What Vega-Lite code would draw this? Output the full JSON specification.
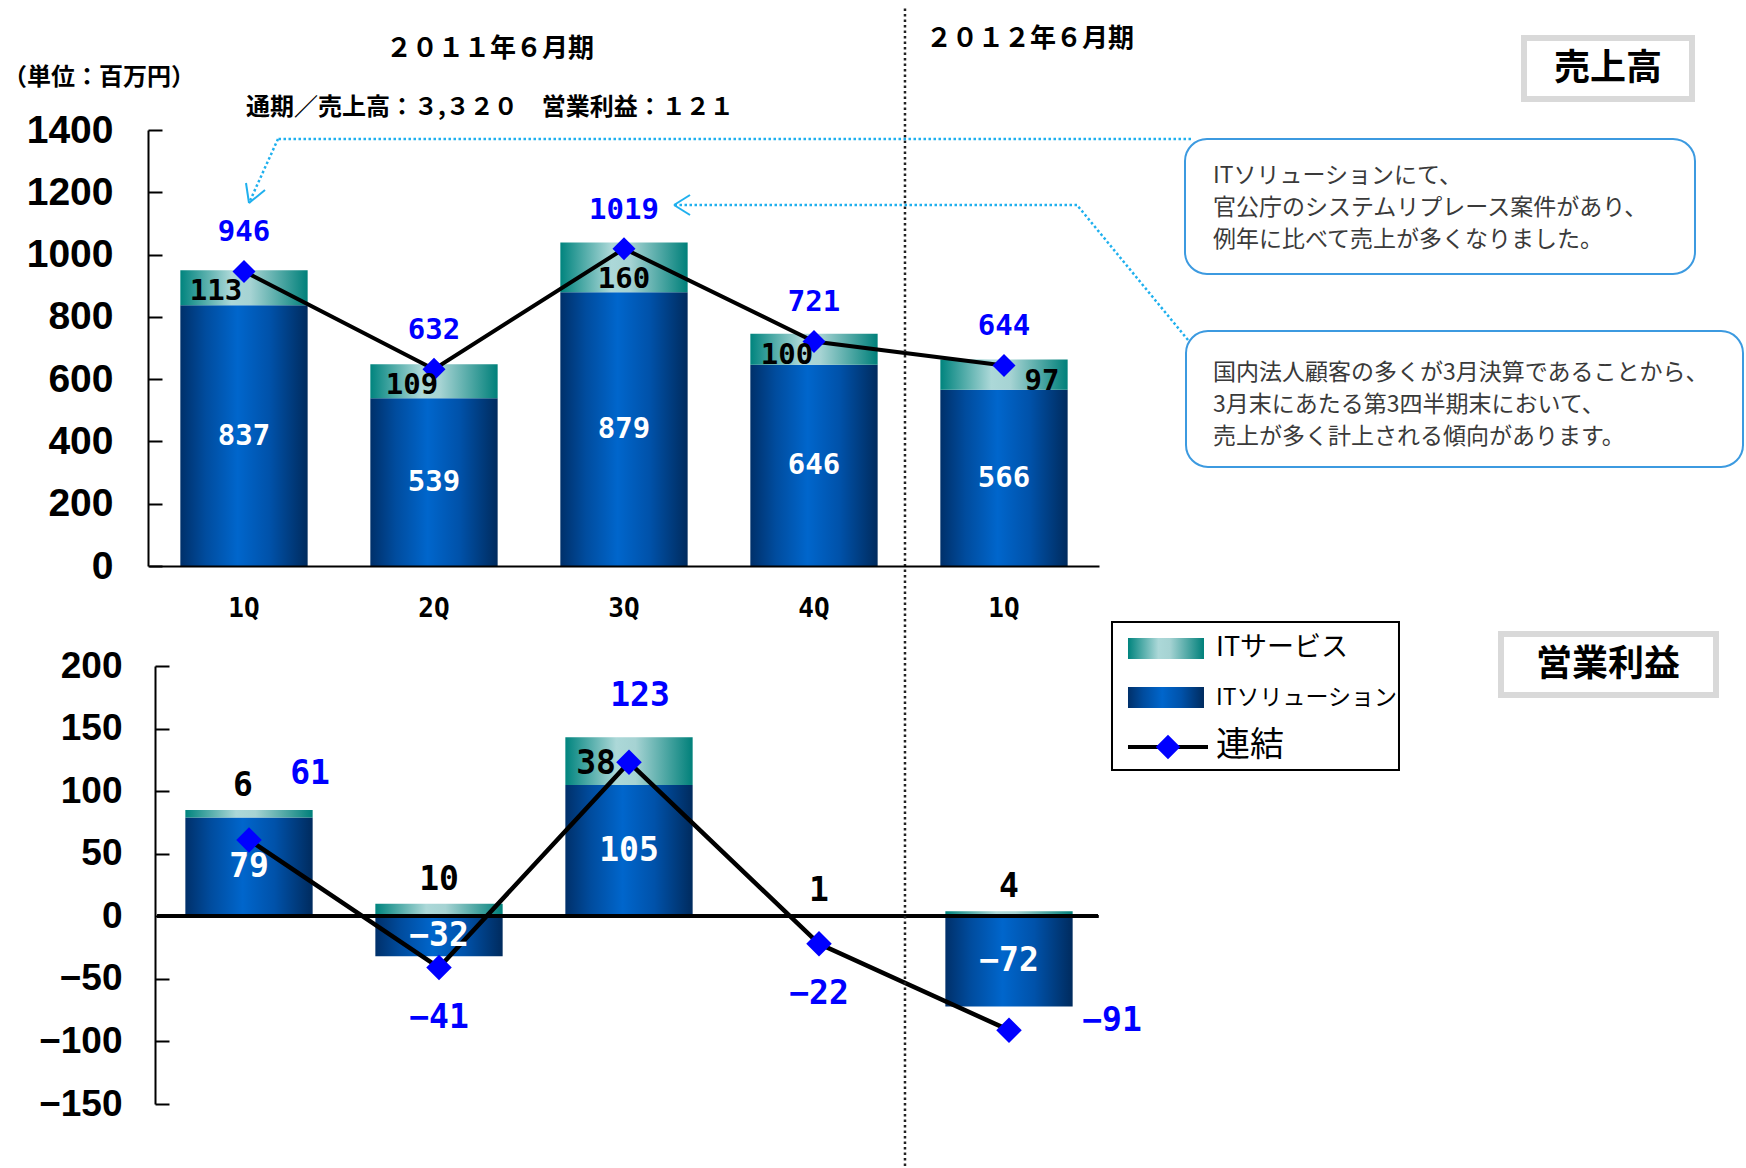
{
  "$schema": "https://vega.github.io/schema/vega-lite/v6.json",
  "width": 1598,
  "height": 566,
  "autosize": {"type": "none"},
  "padding": {"left": 148, "top": 0, "right": 0, "bottom": 602},
  "background": "white",
  "config": {"view": {"stroke": null}},
  "datasets": {
    "sales": [
      {"key": "2011-1Q", "series": "ITソリューション", "value": 837},
      {"key": "2011-1Q", "series": "ITサービス", "value": 113},
      {"key": "2011-1Q", "series": "連結", "value": 946},
      {"key": "2011-2Q", "series": "ITソリューション", "value": 539},
      {"key": "2011-2Q", "series": "ITサービス", "value": 109},
      {"key": "2011-2Q", "series": "連結", "value": 632},
      {"key": "2011-3Q", "series": "ITソリューション", "value": 879},
      {"key": "2011-3Q", "series": "ITサービス", "value": 160},
      {"key": "2011-3Q", "series": "連結", "value": 1019},
      {"key": "2011-4Q", "series": "ITソリューション", "value": 646},
      {"key": "2011-4Q", "series": "ITサービス", "value": 100},
      {"key": "2011-4Q", "series": "連結", "value": 721},
      {"key": "2012-1Q", "series": "ITソリューション", "value": 566},
      {"key": "2012-1Q", "series": "ITサービス", "value": 97},
      {"key": "2012-1Q", "series": "連結", "value": 644}
    ],
    "profit": [
      {"key": "2011-1Q", "series": "ITソリューション", "value": 79},
      {"key": "2011-1Q", "series": "ITサービス", "value": 6},
      {"key": "2011-1Q", "series": "連結", "value": 61},
      {"key": "2011-2Q", "series": "ITソリューション", "value": -32},
      {"key": "2011-2Q", "series": "ITサービス", "value": 10},
      {"key": "2011-2Q", "series": "連結", "value": -41},
      {"key": "2011-3Q", "series": "ITソリューション", "value": 105},
      {"key": "2011-3Q", "series": "ITサービス", "value": 38},
      {"key": "2011-3Q", "series": "連結", "value": 123},
      {"key": "2011-4Q", "series": "ITソリューション", "value": 0},
      {"key": "2011-4Q", "series": "ITサービス", "value": 1},
      {"key": "2011-4Q", "series": "連結", "value": -22},
      {"key": "2012-1Q", "series": "ITソリューション", "value": -72},
      {"key": "2012-1Q", "series": "ITサービス", "value": 4},
      {"key": "2012-1Q", "series": "連結", "value": -91}
    ]
  },
  "layer": [
    {
      "data": {"name": "sales"},
      "layer": [
        {
          "transform": [{"filter": "datum.series !== '連結'"}],
          "mark": {"type": "bar"},
          "encoding": {
            "x": {"field": "key", "type": "nominal", "scale": {"type": "band", "domain": ["2011-1Q","2011-2Q","2011-3Q","2011-4Q","2012-1Q"], "range": [1, 951], "paddingInner": 0.33, "paddingOuter": 0.165},
              "axis": {"orient": "bottom", "title": null, "labelExpr": "slice(datum.label, 5)", "labelAngle": 0, "labelAlign": "center", "labelBaseline": "top", "labelFont": "DejaVu Sans Mono", "labelFontWeight": "bold", "labelFontSize": 26, "labelColor": "#000000", "labelPadding": 29, "ticks": false, "grid": false, "domainColor": "#000000", "domainWidth": 2, "zindex": 1}},
            "y": {"field": "value", "type": "quantitative", "stack": "zero", "scale": {"type": "linear", "domain": [0, 1400], "range": [566, 130], "zero": false, "nice": false},
              "axis": {"orient": "left", "title": null, "values": [0,200,400,600,800,1000,1200,1400], "format": "d", "labelFont": "Liberation Sans, Arial, sans-serif", "labelFontWeight": "bold", "labelFontSize": 39, "labelColor": "#000000", "labelPadding": 49, "tickSize": -14, "tickColor": "#000000", "tickWidth": 2, "domainColor": "#000000", "domainWidth": 2, "grid": false, "labelOverlap": false}},
            "detail": {"field": "series"},
            "order": {"field": "series", "sort": "descending"},
            "color": {
              "condition": {"test": "datum.series === 'ITサービス'", "value": {"gradient": "linear", "x1": 0, "y1": 0, "x2": 1, "y2": 0, "stops": [{"offset": 0, "color": "#00847E"}, {"offset": 0.4, "color": "#ACD8D8"}, {"offset": 0.55, "color": "#A6D3D3"}, {"offset": 1, "color": "#00807A"}]}},
              "value": {"gradient": "linear", "x1": 0, "y1": 0, "x2": 1, "y2": 0, "stops": [{"offset": 0, "color": "#00306A"}, {"offset": 0.2, "color": "#004C9E"}, {"offset": 0.45, "color": "#0066CC"}, {"offset": 0.7, "color": "#0052AA"}, {"offset": 1, "color": "#002B5E"}]}
            }
          }
        },
        {
          "transform": [{"filter": "datum.series === '連結'"}],
          "mark": {"type": "line", "color": "#000000", "strokeWidth": 4},
          "encoding": {
            "x": {"field": "key", "type": "nominal", "scale": {"type": "band", "domain": ["2011-1Q","2011-2Q","2011-3Q","2011-4Q","2012-1Q"], "range": [1, 951], "paddingInner": 0.33, "paddingOuter": 0.165}},
            "y": {"field": "value", "type": "quantitative", "scale": {"type": "linear", "domain": [0, 1400], "range": [566, 130], "zero": false, "nice": false}}
          }
        },
        {
          "transform": [{"filter": "datum.series === '連結'"}],
          "mark": {"type": "point", "shape": "diamond", "filled": true, "color": "#0000FF", "opacity": 1, "size": 530, "strokeWidth": 0},
          "encoding": {
            "x": {"field": "key", "type": "nominal", "scale": {"type": "band", "domain": ["2011-1Q","2011-2Q","2011-3Q","2011-4Q","2012-1Q"], "range": [1, 951], "paddingInner": 0.33, "paddingOuter": 0.165}},
            "y": {"field": "value", "type": "quantitative", "scale": {"type": "linear", "domain": [0, 1400], "range": [566, 130], "zero": false, "nice": false}}
          }
        },
        {
          "transform": [{"filter": "datum.series === '連結'"}],
          "mark": {"type": "text", "font": "DejaVu Sans Mono", "fontWeight": "bold", "fontSize": 29, "color": "#0000FF", "dy": -39, "baseline": "middle", "align": "center"},
          "encoding": {
            "x": {"field": "key", "type": "nominal", "scale": {"type": "band", "domain": ["2011-1Q","2011-2Q","2011-3Q","2011-4Q","2012-1Q"], "range": [1, 951], "paddingInner": 0.33, "paddingOuter": 0.165}},
            "y": {"field": "value", "type": "quantitative", "scale": {"type": "linear", "domain": [0, 1400], "range": [566, 130], "zero": false, "nice": false}},
            "text": {"field": "value", "type": "quantitative", "format": "d"}
          }
        },
        {
          "transform": [{"filter": "datum.series !== '連結'"}],
          "mark": {"type": "text", "font": "DejaVu Sans Mono", "fontWeight": "bold", "fontSize": 29, "color": "#000000", "baseline": "middle", "align": "center",
            "dx": {"expr": "datum.key === '2011-1Q' ? -28 : datum.key === '2011-2Q' ? -22 : datum.key === '2011-4Q' ? -27 : datum.key === '2012-1Q' ? 38 : 0"},
            "dy": {"expr": "datum.key === '2011-3Q' ? 37 : 21"}},
          "encoding": {
            "x": {"field": "key", "type": "nominal", "scale": {"type": "band", "domain": ["2011-1Q","2011-2Q","2011-3Q","2011-4Q","2012-1Q"], "range": [1, 951], "paddingInner": 0.33, "paddingOuter": 0.165}},
            "y": {"field": "value", "type": "quantitative", "stack": "zero", "scale": {"type": "linear", "domain": [0, 1400], "range": [566, 130], "zero": false, "nice": false}},
            "detail": {"field": "series"},
            "order": {"field": "series", "sort": "descending"},
            "text": {"condition": {"test": "datum.series === 'ITサービス'", "field": "value", "type": "quantitative", "format": "d"}, "value": ""}
          }
        }
      ]
    },
    {
      "data": {"name": "sales"},
      "transform": [{"filter": "datum.series === 'ITソリューション'"}],
      "mark": {"type": "text", "font": "DejaVu Sans Mono", "fontWeight": "bold", "fontSize": 29, "color": "#FFFFFF", "baseline": "middle", "align": "center"},
      "encoding": {
        "x": {"field": "key", "type": "nominal", "scale": {"type": "band", "domain": ["2011-1Q","2011-2Q","2011-3Q","2011-4Q","2012-1Q"], "range": [1, 951], "paddingInner": 0.33, "paddingOuter": 0.165}, "axis": null},
        "y": {"field": "value", "type": "quantitative", "scale": {"type": "linear", "domain": [0, 2800], "range": [566, 130], "zero": false, "nice": false}, "axis": null},
        "text": {"field": "value", "type": "quantitative", "format": "d"}
      }
    },
    {
      "data": {"name": "profit"},
      "layer": [
        {
          "transform": [{"filter": "datum.series !== '連結'"}],
          "mark": {"type": "bar"},
          "encoding": {
            "x": {"field": "key", "type": "nominal", "scale": {"type": "band", "domain": ["2011-1Q","2011-2Q","2011-3Q","2011-4Q","2012-1Q"], "range": [6, 956], "paddingInner": 0.33, "paddingOuter": 0.165}, "axis": null},
            "y": {"field": "value", "type": "quantitative", "stack": "zero", "scale": {"type": "linear", "domain": [-150, 200], "range": [1104, 666], "zero": false, "nice": false},
              "axis": {"orient": "left", "offset": -7, "title": null, "values": [-150,-100,-50,0,50,100,150,200], "format": "d", "labelFont": "Liberation Sans, Arial, sans-serif", "labelFontWeight": "bold", "labelFontSize": 37, "labelColor": "#000000", "labelPadding": 47, "tickSize": -14, "tickColor": "#000000", "tickWidth": 2, "domainColor": "#000000", "domainWidth": 2, "grid": false, "labelOverlap": false}},
            "detail": {"field": "series"},
            "order": {"field": "series", "sort": "descending"},
            "color": {
              "condition": {"test": "datum.series === 'ITサービス'", "value": {"gradient": "linear", "x1": 0, "y1": 0, "x2": 1, "y2": 0, "stops": [{"offset": 0, "color": "#00847E"}, {"offset": 0.4, "color": "#ACD8D8"}, {"offset": 0.55, "color": "#A6D3D3"}, {"offset": 1, "color": "#00807A"}]}},
              "value": {"gradient": "linear", "x1": 0, "y1": 0, "x2": 1, "y2": 0, "stops": [{"offset": 0, "color": "#00306A"}, {"offset": 0.2, "color": "#004C9E"}, {"offset": 0.45, "color": "#0066CC"}, {"offset": 0.7, "color": "#0052AA"}, {"offset": 1, "color": "#002B5E"}]}
            }
          }
        },
        {
          "mark": {"type": "rule", "color": "#000000", "strokeWidth": 3},
          "encoding": {
            "x": {"datum": "2011-1Q", "bandPosition": -0.22, "scale": {"type": "band", "domain": ["2011-1Q","2011-2Q","2011-3Q","2011-4Q","2012-1Q"], "range": [6, 956], "paddingInner": 0.33, "paddingOuter": 0.165}, "axis": null},
            "x2": {"datum": "2012-1Q", "bandPosition": 1.2},
            "y": {"datum": 0, "type": "quantitative", "scale": {"type": "linear", "domain": [-150, 200], "range": [1104, 666], "zero": false, "nice": false}}
          }
        },
        {
          "transform": [{"filter": "datum.series === '連結'"}],
          "mark": {"type": "line", "color": "#000000", "strokeWidth": 4.5},
          "encoding": {
            "x": {"field": "key", "type": "nominal", "scale": {"type": "band", "domain": ["2011-1Q","2011-2Q","2011-3Q","2011-4Q","2012-1Q"], "range": [6, 956], "paddingInner": 0.33, "paddingOuter": 0.165}, "axis": null},
            "y": {"field": "value", "type": "quantitative", "scale": {"type": "linear", "domain": [-150, 200], "range": [1104, 666], "zero": false, "nice": false}}
          }
        },
        {
          "transform": [{"filter": "datum.series === '連結'"}],
          "mark": {"type": "point", "shape": "diamond", "filled": true, "color": "#0000FF", "opacity": 1, "size": 650, "strokeWidth": 0},
          "encoding": {
            "x": {"field": "key", "type": "nominal", "scale": {"type": "band", "domain": ["2011-1Q","2011-2Q","2011-3Q","2011-4Q","2012-1Q"], "range": [6, 956], "paddingInner": 0.33, "paddingOuter": 0.165}, "axis": null},
            "y": {"field": "value", "type": "quantitative", "scale": {"type": "linear", "domain": [-150, 200], "range": [1104, 666], "zero": false, "nice": false}}
          }
        },
        {
          "transform": [{"filter": "datum.series === '連結'"}],
          "mark": {"type": "text", "font": "DejaVu Sans Mono", "fontWeight": "bold", "fontSize": 33, "color": "#0000FF", "baseline": "middle", "align": "center",
            "dx": {"expr": "datum.key === '2011-1Q' ? 61 : datum.key === '2011-3Q' ? 11 : datum.key === '2012-1Q' ? 103 : 0"},
            "dy": {"expr": "datum.key === '2012-1Q' ? -9 : datum.value >= 0 ? -66 : 50"}},
          "encoding": {
            "x": {"field": "key", "type": "nominal", "scale": {"type": "band", "domain": ["2011-1Q","2011-2Q","2011-3Q","2011-4Q","2012-1Q"], "range": [6, 956], "paddingInner": 0.33, "paddingOuter": 0.165}, "axis": null},
            "y": {"field": "value", "type": "quantitative", "scale": {"type": "linear", "domain": [-150, 200], "range": [1104, 666], "zero": false, "nice": false}},
            "text": {"field": "value", "type": "quantitative", "format": "d"}
          }
        },
        {
          "transform": [{"filter": "datum.series !== '連結'"}],
          "mark": {"type": "text", "font": "DejaVu Sans Mono", "fontWeight": "bold", "fontSize": 33, "color": "#000000", "baseline": "middle", "align": "center",
            "dx": {"expr": "datum.key === '2011-3Q' ? -33 : datum.key === '2011-1Q' ? -6 : 0"},
            "dy": {"expr": "datum.key === '2011-3Q' ? 27 : -24"}},
          "encoding": {
            "x": {"field": "key", "type": "nominal", "scale": {"type": "band", "domain": ["2011-1Q","2011-2Q","2011-3Q","2011-4Q","2012-1Q"], "range": [6, 956], "paddingInner": 0.33, "paddingOuter": 0.165}, "axis": null},
            "y": {"field": "value", "type": "quantitative", "stack": "zero", "scale": {"type": "linear", "domain": [-150, 200], "range": [1104, 666], "zero": false, "nice": false}},
            "detail": {"field": "series"},
            "order": {"field": "series", "sort": "descending"},
            "text": {"condition": {"test": "datum.series === 'ITサービス'", "field": "value", "type": "quantitative", "format": "d"}, "value": ""}
          }
        }
      ]
    },
    {
      "data": {"name": "profit"},
      "transform": [{"filter": "datum.series === 'ITソリューション' && datum.value !== 0"}],
      "mark": {"type": "text", "font": "DejaVu Sans Mono", "fontWeight": "bold", "fontSize": 33, "color": "#FFFFFF", "baseline": "middle", "align": "center"},
      "encoding": {
        "x": {"field": "key", "type": "nominal", "scale": {"type": "band", "domain": ["2011-1Q","2011-2Q","2011-3Q","2011-4Q","2012-1Q"], "range": [6, 956], "paddingInner": 0.33, "paddingOuter": 0.165}, "axis": null},
        "y": {"field": "value", "type": "quantitative", "scale": {"type": "linear", "domain": [-300, 400], "range": [1104, 666], "zero": false, "nice": false}, "axis": null},
        "text": {"field": "value", "type": "quantitative", "format": "d"}
      }
    },
    {
      "data": {"values": [{}]},
      "layer": [
        {"mark": {"type": "rule", "color": "#222222", "strokeWidth": 2.5, "strokeDash": [2.5, 3]},
         "encoding": {"x": {"datum": 3.4789, "type": "quantitative", "scale": {"type": "linear", "domain": [-0.5, 4.5], "range": [1, 951], "zero": false, "nice": false}, "axis": null},
           "y": {"datum": 1790, "type": "quantitative", "scale": {"type": "linear", "domain": [0, 1400], "range": [566, 130], "zero": false, "nice": false}, "axis": null}, "y2": {"datum": -1930}}},
        {"mark": {"type": "rule", "color": "#1FB0EE", "strokeWidth": 2.5, "strokeDash": [2.5, 2.5]},
         "encoding": {"x": {"datum": 4.9842, "type": "quantitative", "scale": {"type": "linear", "domain": [-0.5, 4.5], "range": [1, 951], "zero": false, "nice": false}, "axis": null}, "x2": {"datum": 0.1789},
           "y": {"datum": 1371.1, "type": "quantitative", "scale": {"type": "linear", "domain": [0, 1400], "range": [566, 130], "zero": false, "nice": false}, "axis": null}, "y2": {"datum": 1371.1}}},
        {"mark": {"type": "rule", "color": "#1FB0EE", "strokeWidth": 2.5, "strokeDash": [2.5, 2.5]},
         "encoding": {"x": {"datum": 0.1789, "type": "quantitative", "scale": {"type": "linear", "domain": [-0.5, 4.5], "range": [1, 951], "zero": false, "nice": false}, "axis": null}, "x2": {"datum": 0.0263},
           "y": {"datum": 1371.1, "type": "quantitative", "scale": {"type": "linear", "domain": [0, 1400], "range": [566, 130], "zero": false, "nice": false}, "axis": null}, "y2": {"datum": 1165.6}}},
        {"mark": {"type": "rule", "color": "#1FB0EE", "strokeWidth": 2},
         "encoding": {"x": {"datum": 0.0105, "type": "quantitative", "scale": {"type": "linear", "domain": [-0.5, 4.5], "range": [1, 951], "zero": false, "nice": false}, "axis": null}, "x2": {"datum": 0.0263},
           "y": {"datum": 1229.8, "type": "quantitative", "scale": {"type": "linear", "domain": [0, 1400], "range": [566, 130], "zero": false, "nice": false}, "axis": null}, "y2": {"datum": 1165.6}}},
        {"mark": {"type": "rule", "color": "#1FB0EE", "strokeWidth": 2},
         "encoding": {"x": {"datum": 0.1105, "type": "quantitative", "scale": {"type": "linear", "domain": [-0.5, 4.5], "range": [1, 951], "zero": false, "nice": false}, "axis": null}, "x2": {"datum": 0.0263},
           "y": {"datum": 1207.3, "type": "quantitative", "scale": {"type": "linear", "domain": [0, 1400], "range": [566, 130], "zero": false, "nice": false}, "axis": null}, "y2": {"datum": 1165.6}}},
        {"mark": {"type": "rule", "color": "#1FB0EE", "strokeWidth": 2.5, "strokeDash": [2.5, 2.5]},
         "encoding": {"x": {"datum": 4.9684, "type": "quantitative", "scale": {"type": "linear", "domain": [-0.5, 4.5], "range": [1, 951], "zero": false, "nice": false}, "axis": null}, "x2": {"datum": 4.3842},
           "y": {"datum": 725.7, "type": "quantitative", "scale": {"type": "linear", "domain": [0, 1400], "range": [566, 130], "zero": false, "nice": false}, "axis": null}, "y2": {"datum": 1159.2}}},
        {"mark": {"type": "rule", "color": "#1FB0EE", "strokeWidth": 2.5, "strokeDash": [2.5, 2.5]},
         "encoding": {"x": {"datum": 4.3842, "type": "quantitative", "scale": {"type": "linear", "domain": [-0.5, 4.5], "range": [1, 951], "zero": false, "nice": false}, "axis": null}, "x2": {"datum": 2.2632},
           "y": {"datum": 1159.2, "type": "quantitative", "scale": {"type": "linear", "domain": [0, 1400], "range": [566, 130], "zero": false, "nice": false}, "axis": null}, "y2": {"datum": 1159.2}}},
        {"mark": {"type": "rule", "color": "#1FB0EE", "strokeWidth": 2},
         "encoding": {"x": {"datum": 2.3474, "type": "quantitative", "scale": {"type": "linear", "domain": [-0.5, 4.5], "range": [1, 951], "zero": false, "nice": false}, "axis": null}, "x2": {"datum": 2.2632},
           "y": {"datum": 1191.3, "type": "quantitative", "scale": {"type": "linear", "domain": [0, 1400], "range": [566, 130], "zero": false, "nice": false}, "axis": null}, "y2": {"datum": 1159.2}}},
        {"mark": {"type": "rule", "color": "#1FB0EE", "strokeWidth": 2},
         "encoding": {"x": {"datum": 2.3474, "type": "quantitative", "scale": {"type": "linear", "domain": [-0.5, 4.5], "range": [1, 951], "zero": false, "nice": false}, "axis": null}, "x2": {"datum": 2.2632},
           "y": {"datum": 1127.1, "type": "quantitative", "scale": {"type": "linear", "domain": [0, 1400], "range": [566, 130], "zero": false, "nice": false}, "axis": null}, "y2": {"datum": 1159.2}}},
        {"mark": {"type": "rect", "fill": "#FFFFFF", "stroke": "#3C9AE0", "strokeWidth": 2, "cornerRadius": 22},
         "encoding": {"x": {"datum": 4.9526, "type": "quantitative", "scale": {"type": "linear", "domain": [-0.5, 4.5], "range": [1, 951], "zero": false, "nice": false}, "axis": null}, "x2": {"datum": 7.6368},
           "y": {"datum": 1371.1, "type": "quantitative", "scale": {"type": "linear", "domain": [0, 1400], "range": [566, 130], "zero": false, "nice": false}, "axis": null}, "y2": {"datum": 937.6}}},
        {"mark": {"type": "text", "text": "ITソリューションにて、\n官公庁のシステムリプレース案件があり、\n例年に比べて売上が多くなりました。", "lineBreak": "\n", "lineHeight": 32, "font": "Noto Sans CJK JP", "fontSize": 23, "color": "#3A3A3A", "align": "left", "baseline": "middle"},
         "encoding": {"x": {"datum": 5.1, "type": "quantitative", "scale": {"type": "linear", "domain": [-0.5, 4.5], "range": [1, 951], "zero": false, "nice": false}, "axis": null},
           "y": {"datum": 1252.3, "type": "quantitative", "scale": {"type": "linear", "domain": [0, 1400], "range": [566, 130], "zero": false, "nice": false}, "axis": null}}},
        {"mark": {"type": "rect", "fill": "#FFFFFF", "stroke": "#3C9AE0", "strokeWidth": 2, "cornerRadius": 22},
         "encoding": {"x": {"datum": 4.9579, "type": "quantitative", "scale": {"type": "linear", "domain": [-0.5, 4.5], "range": [1, 951], "zero": false, "nice": false}, "axis": null}, "x2": {"datum": 7.8895},
           "y": {"datum": 754.6, "type": "quantitative", "scale": {"type": "linear", "domain": [0, 1400], "range": [566, 130], "zero": false, "nice": false}, "axis": null}, "y2": {"datum": 317.9}}},
        {"mark": {"type": "text", "text": "国内法人顧客の多くが3月決算であることから、\n3月末にあたる第3四半期末において、\n売上が多く計上される傾向があります。", "lineBreak": "\n", "lineHeight": 32, "font": "Noto Sans CJK JP", "fontSize": 23, "color": "#3A3A3A", "align": "left", "baseline": "middle"},
         "encoding": {"x": {"datum": 5.1, "type": "quantitative", "scale": {"type": "linear", "domain": [-0.5, 4.5], "range": [1, 951], "zero": false, "nice": false}, "axis": null},
           "y": {"datum": 619.7, "type": "quantitative", "scale": {"type": "linear", "domain": [0, 1400], "range": [566, 130], "zero": false, "nice": false}, "axis": null}}},
        {"mark": {"type": "rect", "fill": "#FFFFFF", "stroke": "#D9D9D9", "strokeWidth": 6},
         "encoding": {"x": {"datum": 6.7368, "type": "quantitative", "scale": {"type": "linear", "domain": [-0.5, 4.5], "range": [1, 951], "zero": false, "nice": false}, "axis": null}, "x2": {"datum": 7.6211},
           "y": {"datum": 1695.4, "type": "quantitative", "scale": {"type": "linear", "domain": [0, 1400], "range": [566, 130], "zero": false, "nice": false}, "axis": null}, "y2": {"datum": 1499.5}}},
        {"mark": {"type": "text", "text": "売上高", "font": "Noto Sans CJK JP", "fontWeight": "bold", "fontSize": 36, "color": "#000000", "align": "center", "baseline": "middle"},
         "encoding": {"x": {"datum": 7.1789, "type": "quantitative", "scale": {"type": "linear", "domain": [-0.5, 4.5], "range": [1, 951], "zero": false, "nice": false}, "axis": null},
           "y": {"datum": 1595.9, "type": "quantitative", "scale": {"type": "linear", "domain": [0, 1400], "range": [566, 130], "zero": false, "nice": false}, "axis": null}}},
        {"mark": {"type": "rect", "fill": "#FFFFFF", "stroke": "#D9D9D9", "strokeWidth": 6},
         "encoding": {"x": {"datum": 6.6158, "type": "quantitative", "scale": {"type": "linear", "domain": [-0.5, 4.5], "range": [1, 951], "zero": false, "nice": false}, "axis": null}, "x2": {"datum": 7.7474},
           "y": {"datum": -218.4, "type": "quantitative", "scale": {"type": "linear", "domain": [0, 1400], "range": [566, 130], "zero": false, "nice": false}, "axis": null}, "y2": {"datum": -414.2}}},
        {"mark": {"type": "text", "text": "営業利益", "font": "Noto Sans CJK JP", "fontWeight": "bold", "fontSize": 36, "color": "#000000", "align": "center", "baseline": "middle"},
         "encoding": {"x": {"datum": 7.1789, "type": "quantitative", "scale": {"type": "linear", "domain": [-0.5, 4.5], "range": [1, 951], "zero": false, "nice": false}, "axis": null},
           "y": {"datum": -317.9, "type": "quantitative", "scale": {"type": "linear", "domain": [0, 1400], "range": [566, 130], "zero": false, "nice": false}, "axis": null}}},
        {"mark": {"type": "rect", "fill": "#FFFFFF", "stroke": "#000000", "strokeWidth": 2},
         "encoding": {"x": {"datum": 4.5684, "type": "quantitative", "scale": {"type": "linear", "domain": [-0.5, 4.5], "range": [1, 951], "zero": false, "nice": false}, "axis": null}, "x2": {"datum": 6.0789},
           "y": {"datum": -179.8, "type": "quantitative", "scale": {"type": "linear", "domain": [0, 1400], "range": [566, 130], "zero": false, "nice": false}, "axis": null}, "y2": {"datum": -655.0}}},
        {"mark": {"type": "rect", "stroke": null, "fill": {"gradient": "linear", "x1": 0, "y1": 0, "x2": 1, "y2": 0, "stops": [{"offset": 0, "color": "#00847E"}, {"offset": 0.4, "color": "#ACD8D8"}, {"offset": 0.55, "color": "#A6D3D3"}, {"offset": 1, "color": "#00807A"}]}},
         "encoding": {"x": {"datum": 4.6526, "type": "quantitative", "scale": {"type": "linear", "domain": [-0.5, 4.5], "range": [1, 951], "zero": false, "nice": false}, "axis": null}, "x2": {"datum": 5.0526},
           "y": {"datum": -231.2, "type": "quantitative", "scale": {"type": "linear", "domain": [0, 1400], "range": [566, 130], "zero": false, "nice": false}, "axis": null}, "y2": {"datum": -298.6}}},
        {"mark": {"type": "rect", "stroke": null, "fill": {"gradient": "linear", "x1": 0, "y1": 0, "x2": 1, "y2": 0, "stops": [{"offset": 0, "color": "#00306A"}, {"offset": 0.2, "color": "#004C9E"}, {"offset": 0.45, "color": "#0066CC"}, {"offset": 0.7, "color": "#0052AA"}, {"offset": 1, "color": "#002B5E"}]}},
         "encoding": {"x": {"datum": 4.6526, "type": "quantitative", "scale": {"type": "linear", "domain": [-0.5, 4.5], "range": [1, 951], "zero": false, "nice": false}, "axis": null}, "x2": {"datum": 5.0526},
           "y": {"datum": -388.5, "type": "quantitative", "scale": {"type": "linear", "domain": [0, 1400], "range": [566, 130], "zero": false, "nice": false}, "axis": null}, "y2": {"datum": -455.9}}},
        {"mark": {"type": "rule", "color": "#000000", "strokeWidth": 4},
         "encoding": {"x": {"datum": 4.6526, "type": "quantitative", "scale": {"type": "linear", "domain": [-0.5, 4.5], "range": [1, 951], "zero": false, "nice": false}, "axis": null}, "x2": {"datum": 5.0737},
           "y": {"datum": -581.2, "type": "quantitative", "scale": {"type": "linear", "domain": [0, 1400], "range": [566, 130], "zero": false, "nice": false}, "axis": null}, "y2": {"datum": -581.2}}},
        {"mark": {"type": "point", "shape": "diamond", "filled": true, "color": "#0000FF", "opacity": 1, "size": 600, "strokeWidth": 0},
         "encoding": {"x": {"datum": 4.8632, "type": "quantitative", "scale": {"type": "linear", "domain": [-0.5, 4.5], "range": [1, 951], "zero": false, "nice": false}, "axis": null},
           "y": {"datum": -581.2, "type": "quantitative", "scale": {"type": "linear", "domain": [0, 1400], "range": [566, 130], "zero": false, "nice": false}, "axis": null}}},
        {"mark": {"type": "text", "text": "ITサービス", "font": "Noto Sans CJK JP", "fontSize": 27, "color": "#000000", "align": "left", "baseline": "middle"},
         "encoding": {"x": {"datum": 5.1158, "type": "quantitative", "scale": {"type": "linear", "domain": [-0.5, 4.5], "range": [1, 951], "zero": false, "nice": false}, "axis": null},
           "y": {"datum": -263.3, "type": "quantitative", "scale": {"type": "linear", "domain": [0, 1400], "range": [566, 130], "zero": false, "nice": false}, "axis": null}}},
        {"mark": {"type": "text", "text": "ITソリューション", "font": "Noto Sans CJK JP", "fontSize": 23, "color": "#000000", "align": "left", "baseline": "middle"},
         "encoding": {"x": {"datum": 5.1158, "type": "quantitative", "scale": {"type": "linear", "domain": [-0.5, 4.5], "range": [1, 951], "zero": false, "nice": false}, "axis": null},
           "y": {"datum": -423.9, "type": "quantitative", "scale": {"type": "linear", "domain": [0, 1400], "range": [566, 130], "zero": false, "nice": false}, "axis": null}}},
        {"mark": {"type": "text", "text": "連結", "font": "Noto Sans CJK JP", "fontSize": 34, "color": "#000000", "align": "left", "baseline": "middle"},
         "encoding": {"x": {"datum": 5.1158, "type": "quantitative", "scale": {"type": "linear", "domain": [-0.5, 4.5], "range": [1, 951], "zero": false, "nice": false}, "axis": null},
           "y": {"datum": -578.0, "type": "quantitative", "scale": {"type": "linear", "domain": [0, 1400], "range": [566, 130], "zero": false, "nice": false}, "axis": null}}},
        {"mark": {"type": "text", "text": "２０１１年６月期", "font": "Noto Sans CJK JP", "fontWeight": "bold", "fontSize": 26, "color": "#000000", "align": "center", "baseline": "middle"},
         "encoding": {"x": {"datum": 1.2947, "type": "quantitative", "scale": {"type": "linear", "domain": [-0.5, 4.5], "range": [1, 951], "zero": false, "nice": false}, "axis": null},
           "y": {"datum": 1660.1, "type": "quantitative", "scale": {"type": "linear", "domain": [0, 1400], "range": [566, 130], "zero": false, "nice": false}, "axis": null}}},
        {"mark": {"type": "text", "text": "２０１２年６月期", "font": "Noto Sans CJK JP", "fontWeight": "bold", "fontSize": 26, "color": "#000000", "align": "center", "baseline": "middle"},
         "encoding": {"x": {"datum": 4.1368, "type": "quantitative", "scale": {"type": "linear", "domain": [-0.5, 4.5], "range": [1, 951], "zero": false, "nice": false}, "axis": null},
           "y": {"datum": 1692.2, "type": "quantitative", "scale": {"type": "linear", "domain": [0, 1400], "range": [566, 130], "zero": false, "nice": false}, "axis": null}}},
        {"mark": {"type": "text", "text": "（単位：百万円）", "font": "Noto Sans CJK JP", "fontWeight": "bold", "fontSize": 24, "color": "#000000", "align": "left", "baseline": "middle"},
         "encoding": {"x": {"datum": -1.2684, "type": "quantitative", "scale": {"type": "linear", "domain": [-0.5, 4.5], "range": [1, 951], "zero": false, "nice": false}, "axis": null},
           "y": {"datum": 1567.0, "type": "quantitative", "scale": {"type": "linear", "domain": [0, 1400], "range": [566, 130], "zero": false, "nice": false}, "axis": null}}},
        {"mark": {"type": "text", "text": "通期／売上高：３,３２０　営業利益：１２１", "font": "Noto Sans CJK JP", "fontWeight": "bold", "fontSize": 24, "color": "#000000", "align": "left", "baseline": "middle"},
         "encoding": {"x": {"datum": 0.0105, "type": "quantitative", "scale": {"type": "linear", "domain": [-0.5, 4.5], "range": [1, 951], "zero": false, "nice": false}, "axis": null},
           "y": {"datum": 1470.6, "type": "quantitative", "scale": {"type": "linear", "domain": [0, 1400], "range": [566, 130], "zero": false, "nice": false}, "axis": null}}}
      ]
    }
  ],
  "resolve": {"scale": {"x": "independent", "y": "independent"}}
}
